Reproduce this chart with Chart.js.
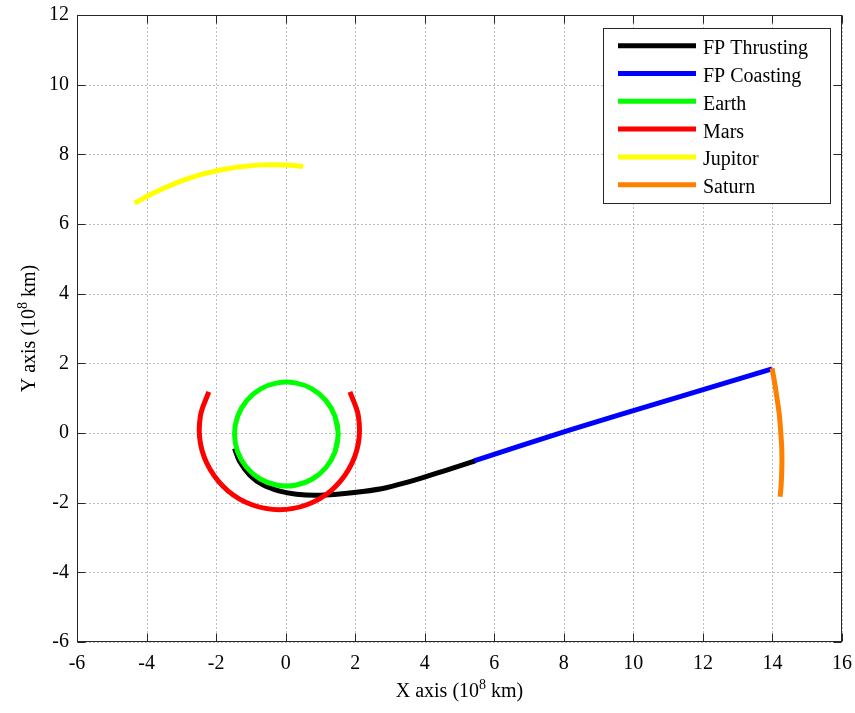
<!DOCTYPE html>
<html>
<head>
<meta charset="utf-8">
<title>Trajectory</title>
<script src="https://cdn.jsdelivr.net/npm/chart.js@4.4.0/dist/chart.umd.min.js"></script>
<style>
  body { margin: 0; background: #fff; }
  #wrap { width: 855px; height: 713px; position: relative; }
</style>
</head>
<body>
<div id="wrap"><canvas id="orbitChart"></canvas></div>
<script>
// all positions in 10^8 km
const xTicks = [-6, -4, -2, 0, 2, 4, 6, 8, 10, 12, 14, 16];
const yTicks = [-6, -4, -2, 0, 2, 4, 6, 8, 10, 12];

const thrustX = [-1.47, -1.32, -1.03, -0.65, -0.17, 0.31, 0.88, 1.55, 2.22, 2.89, 3.66, 4.52, 5.45];
const thrustY = [-0.44, -0.82, -1.21, -1.49, -1.67, -1.76, -1.79, -1.75, -1.68, -1.57, -1.37, -1.10, -0.80];

const coastX = [5.42, 8.16, 11.03, 13.99];
const coastY = [-0.80, 0.08, 0.95, 1.84];

const earthX = [1.42, 1.51, 1.42, 1.16, 0.77, 0.28, -0.24, -0.73, -1.12, -1.38, -1.47, -1.38, -1.12, -0.73, -0.24, 0.28, 0.77, 1.16, 1.42, 1.51, 1.42];
const earthY = [-0.54, -0.03, 0.48, 0.93, 1.26, 1.44, 1.44, 1.26, 0.93, 0.48, -0.03, -0.54, -0.99, -1.32, -1.50, -1.50, -1.32, -0.99, -0.54, -0.03, 0.48];

const marsX = [-2.21, -2.45, -2.45, -2.17, -1.66, -0.97, -0.18, 0.61, 1.30, 1.81, 2.09, 2.09, 1.85];
const marsY = [1.18, 0.50, -0.30, -1.05, -1.66, -2.06, -2.20, -2.06, -1.66, -1.05, -0.30, 0.50, 1.18];

const jupiterX = [-4.34, -3.80, -3.14, -2.40, -1.60, -0.80, -0.37, 0.10, 0.50];
const jupiterY = [6.60, 6.89, 7.18, 7.43, 7.60, 7.69, 7.70, 7.69, 7.65];

const saturnX = [13.99, 14.07, 14.13, 14.20, 14.24, 14.27, 14.27, 14.25, 14.22];
const saturnY = [1.86, 1.40, 1.00, 0.50, 0.00, -0.50, -1.00, -1.50, -1.83];

const FONT = 'Liberation Serif, "Times New Roman", serif';

function pts(xs, ys) {
  return xs.map((x, i) => ({ x: x, y: ys[i] }));
}

function track(label, xs, ys, color, order) {
  return {
    label: label,
    data: pts(xs, ys),
    borderColor: color,
    backgroundColor: color,
    borderWidth: 5,
    pointRadius: 0,
    pointHoverRadius: 0,
    tension: 0.35,
    fill: false,
    order: order
  };
}

// draws text with a raised "8" in the middle, centered on cx
function supText(ctx, before, sup, after, cx, baseY) {
  ctx.font = '20px ' + FONT;
  const w1 = ctx.measureText(before).width;
  const w3 = ctx.measureText(after).width;
  ctx.font = '14px ' + FONT;
  const w2 = ctx.measureText(sup).width;
  let x = cx - (w1 + w2 + w3) / 2;
  ctx.textAlign = 'left';
  ctx.textBaseline = 'alphabetic';
  ctx.font = '20px ' + FONT;
  ctx.fillText(before, x, baseY);
  x += w1;
  ctx.font = '14px ' + FONT;
  ctx.fillText(sup, x, baseY - 8);
  x += w2;
  ctx.font = '20px ' + FONT;
  ctx.fillText(after, x, baseY);
}

const axesBox = {
  id: 'axesBox',
  beforeDatasetsDraw(chart) {
    const { ctx, chartArea: a, scales: { x, y } } = chart;
    ctx.save();
    ctx.strokeStyle = '#bcbcbc';
    ctx.lineWidth = 1;
    ctx.setLineDash([2, 2]);
    xTicks.forEach(v => {
      const px = Math.round(x.getPixelForValue(v)) + 0.5;
      ctx.beginPath(); ctx.moveTo(px, a.top); ctx.lineTo(px, a.bottom); ctx.stroke();
    });
    yTicks.forEach(v => {
      const py = Math.round(y.getPixelForValue(v)) + 0.5;
      ctx.beginPath(); ctx.moveTo(a.left, py); ctx.lineTo(a.right, py); ctx.stroke();
    });
    ctx.restore();
  },
  afterDatasetsDraw(chart) {
    const { ctx, chartArea: a, scales: { x, y } } = chart;
    const L = Math.round(a.left) + 0.5, R = Math.round(a.right) - 0.5;
    const T = Math.round(a.top) + 0.5, B = Math.round(a.bottom) - 0.5;
    ctx.save();
    ctx.strokeStyle = '#262626';
    ctx.lineWidth = 1;
    ctx.strokeRect(L, T, R - L, B - T);
    ctx.beginPath();
    xTicks.forEach(v => {
      const px = Math.round(x.getPixelForValue(v)) + 0.5;
      ctx.moveTo(px, B); ctx.lineTo(px, B - 8);
      ctx.moveTo(px, T); ctx.lineTo(px, T + 8);
    });
    yTicks.forEach(v => {
      const py = Math.round(y.getPixelForValue(v)) + 0.5;
      ctx.moveTo(L, py); ctx.lineTo(L + 8, py);
      ctx.moveTo(R, py); ctx.lineTo(R - 8, py);
    });
    ctx.stroke();
    ctx.restore();
  },
  afterDraw(chart) {
    const { ctx, chartArea: a } = chart;
    ctx.save();
    ctx.fillStyle = '#000';

    // axis titles
    supText(ctx, 'X axis (10', '8', ' km)', (a.left + a.right) / 2, 697);
    ctx.translate(35, (a.top + a.bottom) / 2);
    ctx.rotate(-Math.PI / 2);
    supText(ctx, 'Y axis (10', '8', ' km)', 0, 0);
    ctx.setTransform(1, 0, 0, 1, 0, 0);

    // legend box, upper right
    const bx = 603.5, by = 28.5, bw = 227, bh = 175;
    ctx.fillStyle = '#fff';
    ctx.fillRect(bx, by, bw, bh);
    ctx.strokeStyle = '#262626';
    ctx.lineWidth = 1;
    ctx.strokeRect(bx, by, bw, bh);
    ctx.font = '20px ' + FONT;
    ctx.textAlign = 'left';
    ctx.textBaseline = 'alphabetic';
    chart.data.datasets.forEach((ds, i) => {
      const ry = 45.7 + i * 27.8;
      ctx.strokeStyle = ds.borderColor;
      ctx.lineWidth = 5;
      ctx.beginPath();
      ctx.moveTo(618, ry);
      ctx.lineTo(696, ry);
      ctx.stroke();
      ctx.fillStyle = '#000';
      ctx.fillText(ds.label, 703, ry + 8.5);
    });
    ctx.restore();
  }
};

new Chart(document.getElementById('orbitChart'), {
  type: 'line',
  data: {
    datasets: [
      track('FP Thrusting', thrustX, thrustY, '#000000', 6),
      track('FP Coasting', coastX, coastY, '#0000ff', 5),
      track('Earth', earthX, earthY, '#00ff00', 4),
      track('Mars', marsX, marsY, '#ff0000', 3),
      track('Jupitor', jupiterX, jupiterY, '#ffff00', 2),
      track('Saturn', saturnX, saturnY, '#ff8000', 1)
    ]
  },
  options: {
    responsive: true,
    maintainAspectRatio: false,
    animation: false,
    layout: { padding: { left: 0, top: 15, right: 13, bottom: 0 } },
    plugins: {
      legend: { display: false },
      tooltip: { enabled: false }
    },
    scales: {
      x: {
        type: 'linear',
        min: xTicks[0],
        max: xTicks[xTicks.length - 1],
        afterBuildTicks: s => { s.ticks = xTicks.map(v => ({ value: v })); },
        afterFit: s => { s.height = 71; s.paddingLeft = 0; s.paddingRight = 0; },
        grid: { display: false, drawTicks: false },
        border: { display: false },
        ticks: { color: '#000', padding: 10, maxRotation: 0, font: { family: FONT, size: 20 } }
      },
      y: {
        type: 'linear',
        min: yTicks[0],
        max: yTicks[yTicks.length - 1],
        afterBuildTicks: s => { s.ticks = yTicks.map(v => ({ value: v })); },
        afterFit: s => { s.width = 77; s.paddingTop = 0; s.paddingBottom = 0; },
        grid: { display: false, drawTicks: false },
        border: { display: false },
        ticks: { color: '#000', padding: 8, font: { family: FONT, size: 20 } }
      }
    }
  },
  plugins: [axesBox]
});
</script>
</body>
</html>
